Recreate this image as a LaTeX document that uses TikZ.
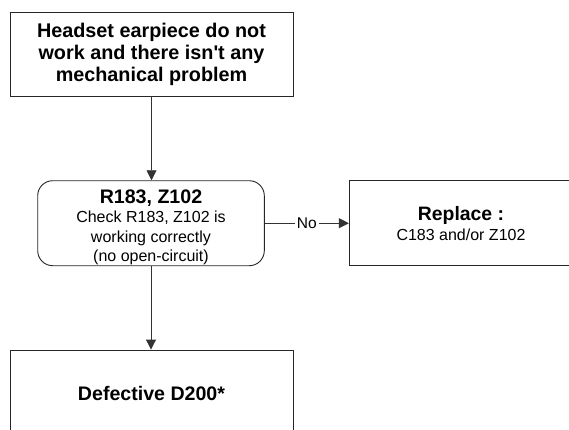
\documentclass[tikz,border=0pt]{standalone}
\usepackage{fontspec}
\setmainfont{Liberation Sans}
\usetikzlibrary{arrows.meta}
\begin{document}
\begin{tikzpicture}[x=1pt,y=-1pt,
  box/.style={draw=black!85,line width=0.9pt,align=center,inner sep=0pt},
  conn/.style={draw=black!80,line width=0.9pt},
  arr/.style={conn,-{Triangle[length=10pt,width=10pt]}}]
\useasboundingbox (0,0) rectangle (569,429);
\node[box,minimum width=283pt,minimum height=84pt,font=\bfseries\fontsize{19.8}{22}\selectfont] (top) at (151.5,54) {Headset earpiece do not\\work and there isn\textquotesingle t any\\mechanical problem};
\node[box,rounded corners=15pt,minimum width=226.6pt,minimum height=85pt,font=\fontsize{16}{19.5}\selectfont] (chk) at (151,223.2) {\rule{0pt}{21.5pt}{\bfseries\fontsize{19.6}{19.5}\selectfont R183, Z102}\\Check R183, Z102 is\\working correctly\\(no open-circuit)};
\node[box,minimum width=223.4pt,minimum height=85pt,font=\fontsize{16}{20}\selectfont] (rep) at (461,223.2) {{\bfseries\fontsize{19.4}{20}\selectfont Replace :}\\C183 and/or Z102};
\node[box,minimum width=283pt,minimum height=86pt,font=\bfseries\fontsize{19.6}{20}\selectfont] (def) at (151.5,393) {Defective D200*};
\draw[arr] (top.south) -- (top.south |- chk.north);
\draw[arr] (chk.south) -- (chk.south |- def.north);
\draw[arr] (chk.east) -- node[fill=white,inner xsep=2pt,inner ysep=1pt,font=\fontsize{15.5}{17}\selectfont] (no) {No} (rep.west);
\end{tikzpicture}
\end{document}
